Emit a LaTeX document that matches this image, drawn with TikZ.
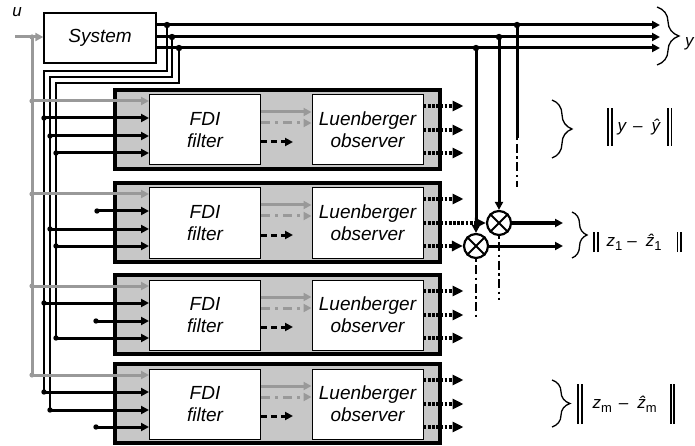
\documentclass[tikz,border=0pt]{standalone}
\usepackage{fontspec}
\setmainfont{Liberation Sans}
\usetikzlibrary{arrows.meta,decorations.pathreplacing}

\newcommand\dbar[1]{$\vcenter{\hbox{\rule{1.9pt}{#1}\hspace{1.6pt}\rule{1.9pt}{#1}}}$}
\newcommand\sub[1]{\raisebox{-4pt}{\fontsize{13}{13}\selectfont\upshape #1}}

\begin{document}
\begin{tikzpicture}[x=1pt,y=-1pt,
  txt/.style={font=\fontsize{19}{22}\selectfont\itshape,align=center},
  lbl/.style={font=\fontsize{17}{20}\selectfont\itshape,inner sep=0pt},
  grp/.style={draw,line width=4pt,fill=black!22,minimum width=325pt,minimum height=79pt},
  blkbox/.style={txt,draw,line width=1pt,fill=white,minimum width=111pt,minimum height=70pt,inner sep=0pt},
  sig/.style={line width=3pt,-{Triangle[length=8pt,width=8pt]}},
  bus/.style={line width=2.4pt},
  grysig/.style={sig,draw=black!40},
  obs/.style={line width=3.4pt,dash pattern=on 2.8pt off 1.4pt,-{Triangle[length=11pt,width=10pt]}},
  dashdot/.style={line width=2.8pt,dash pattern=on 2.5pt off 3.5pt on 9pt off 3.5pt},
  mult/.style={circle,draw,line width=2.2pt,fill=white,minimum size=24pt,inner sep=0pt},
  brc/.style={decorate,decoration={brace,amplitude=#1},line width=1.3pt}
]
  \useasboundingbox (0,0) rectangle (695,446);

  % plant
  \node[txt,draw,line width=1.3pt,minimum width=112pt,minimum height=50pt] (sys) at (100,38) {System};
  \node[lbl] (ulab) at (17,12) {u};
  \coordinate (uin) at (15,37);
  \coordinate (ubr) at (32,37);
  \coordinate (gend) at (32,375);
  \draw[grysig] (uin) -- (uin -| sys.west);
  \draw[line width=3pt,black!40] (ubr) -- (gend);
  \fill[black!40] (ubr) circle (2.6pt);

  % measured outputs and the bus to the filters
  \foreach \k/\yy/\xb/\xv/\yh/\ye in {1/25/167/44/71/392, 2/37/172/50/77/410, 3/48/179/56/83/338}{
    \coordinate (y\k) at (660,\yy);
    \coordinate (br\k) at (\xb,\yy);
    \coordinate (bus\k) at (\xv,\yh);
    \coordinate (bend\k) at (\xv,\ye);
    \draw[sig] (y\k -| sys.east) -- (y\k);
    \draw[bus] (br\k) |- (bus\k) -- (bend\k);
    \fill (br\k) circle (3.2pt);
  }

  % filter banks
  \foreach \T/\xa/\xb/\xc [count=\i] in {88/44/50/56, 181/97/50/56, 273/44/96/56, 362/44/50/96}{
    \node[grp] (grp\i) at (277.5,\T+41.5) {};
    \node[blkbox] (fdi\i) at (205,\T+42) {FDI\\filter};
    \node[blkbox] (lue\i) at (367.5,\T+42) {Luenberger\\observer};
    \coordinate (g\i) at (32,\T+13);
    \coordinate (a\i) at (\xa,\T+30);
    \coordinate (b\i) at (\xb,\T+48);
    \coordinate (c\i) at (\xc,\T+65);
    \draw[grysig] (g\i) -- (g\i -| fdi\i.west);
    \fill[black!40] (g\i) circle (2.6pt);
    \foreach \p in {a,b,c}{
      \draw[sig] (\p\i) -- (\p\i -| fdi\i.west);
      \fill (\p\i) circle (2.7pt);
    }
    \draw[grysig] ([yshift=18pt]fdi\i.east) -- ([yshift=18pt]lue\i.west);
    \draw[grysig,dash pattern=on 9pt off 5pt on 3pt off 5pt] ([yshift=7pt]fdi\i.east) -- ([yshift=7pt]lue\i.west);
    \draw[sig,dash pattern=on 6pt off 4pt] ([yshift=-12pt]fdi\i.east) -- ++(32,0);
    \draw[obs] ([yshift=24pt]lue\i.east) -- ++(40,0);
    \ifnum\i=2 \else
      \draw[obs] (lue\i.east) -- ++(40,0);
      \draw[obs] ([yshift=-23pt]lue\i.east) -- ++(40,0);
    \fi
  }

  % residual generation
  \node[mult] (mulA) at (499,223) {};
  \node[mult] (mulB) at (476,246) {};
  \foreach \m in {mulA,mulB}
    \draw[line width=2pt] (\m.north west) -- (\m.south east) (\m.north east) -- (\m.south west);
  \draw[obs] (lue2.east) -- (mulA.west);
  \draw[obs] ([yshift=-23pt]lue2.east) -- (mulB.west);

  \coordinate (tA) at (499,37);
  \coordinate (tB) at (476,48);
  \coordinate (tC) at (517,25);
  \coordinate (tCe) at (517,138);
  \coordinate (tCd) at (517,187);
  \draw[sig] (tA) -- (mulA.north);
  \draw[sig] (tB) -- (mulB.north);
  \draw[line width=3pt] (tC) -- (tCe);
  \draw[dashdot] (tCe) -- (tCd);
  \foreach \c in {tA,tB,tC} \fill (\c) circle (3.2pt);

  \coordinate (dA) at (499,300);
  \coordinate (dB) at (476,318);
  \draw[dashdot] (mulA.south) -- (dA);
  \draw[dashdot] (mulB.south) -- (dB);

  \coordinate (zA) at (563,223);
  \coordinate (zB) at (563,246);
  \draw[sig] (mulA.east) -- (zA);
  \draw[sig] (mulB.east) -- (zB);

  % braces and norms
  \draw[brc=22pt] (657,7) -- (657,65);
  \node[lbl,anchor=west] (ylab) at (685,44) {y};
  \draw[brc=20pt] (552,100) -- (552,158);
  \node[lbl,anchor=west] (nrm1) at (607,127)
    {\dbar{38pt}\hspace{5pt}y\hspace{7pt}–\hspace{9pt}\^{y}\hspace{7pt}\dbar{38pt}};
  \draw[brc=15pt] (572,212) -- (572,258);
  \node[lbl,anchor=west] (nrm2) at (593,242)
    {\dbar{20pt}\hspace{8pt}z\sub{1}\hspace{5pt}–\hspace{9pt}\^{z}\sub{1}\hspace{15pt}\dbar{20pt}};
  \draw[brc=18pt] (552,380) -- (552,427);
  \node[lbl,anchor=west] (nrm4) at (577,404)
    {\dbar{40pt}\hspace{10pt}z\sub{m}\hspace{7pt}–\hspace{9pt}\^{z}\sub{m}\hspace{13pt}\dbar{40pt}};
\end{tikzpicture}
\end{document}
